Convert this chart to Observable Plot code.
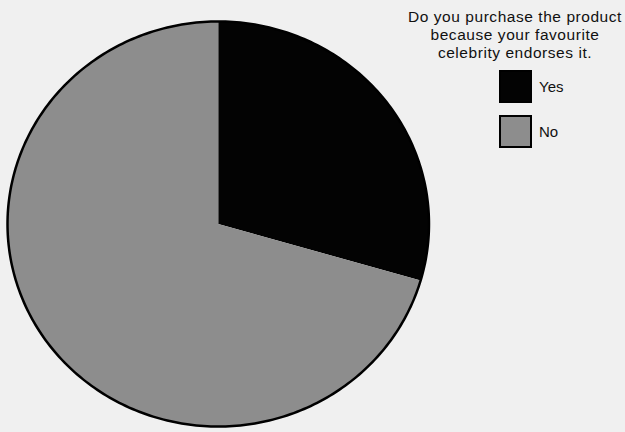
<!DOCTYPE html>
<html>
<head>
<meta charset="utf-8">
<script src="https://cdn.jsdelivr.net/npm/d3@7"></script>
<script src="https://cdn.jsdelivr.net/npm/@observablehq/plot@0.6"></script>
<style>
  html, body { margin: 0; padding: 0; background: #f0f0f0; }
  #wrap { position: relative; width: 625px; height: 432px; overflow: hidden; font-family: "Liberation Sans", Arial, sans-serif; color: #111; }
  #chart { position: absolute; left: 0; top: 0; }
  #legend { position: absolute; left: 400px; top: 8px; width: 230px; }
  #legend .title { text-align: center; font-size: 15.5px; letter-spacing: 0.55px; line-height: 18px; }
  .item { position: absolute; left: 99px; display: flex; align-items: center; }
  .sw { width: 29px; height: 29px; border: 2px solid #000; box-sizing: content-box; }
  .lab { margin-left: 7px; font-size: 15px; }
</style>
</head>
<body>
<div id="wrap">
  <div id="chart"></div>
  <div id="legend"></div>
</div>
<script>
const categories = ["Yes", "No"];
const values = [29.5, 70.5];
const colors = ["#030303", "#8d8d8d"];
const legendTitle = ["Do you purchase the product", "because your favourite", "celebrity endorses it."];

// Build slice outlines in unit coordinates (angle 0 = top, clockwise)
const pie = d3.pie().sort(null).value(d => d.value)(categories.map((c, i) => ({category: c, value: values[i]})));
const pts = [];
pie.forEach(s => {
  const cat = s.data.category;
  pts.push({category: cat, x: 0, y: 0});
  const n = Math.max(2, Math.ceil((s.endAngle - s.startAngle) / 0.01));
  for (let k = 0; k <= n; k++) {
    const a = s.startAngle + (s.endAngle - s.startAngle) * k / n;
    pts.push({category: cat, x: Math.sin(a), y: Math.cos(a)});
  }
  pts.push({category: cat, x: 0, y: 0});
});
const ring = d3.range(0, 361).map(d => ({x: Math.sin(d * Math.PI / 180), y: Math.cos(d * Math.PI / 180)}));

const plot = Plot.plot({
  width: 625,
  height: 432,
  margin: 0,
  style: {background: "transparent"},
  x: {domain: [-1, 1], range: [7, 428.5], axis: null},
  y: {domain: [-1, 1], range: [426, 21], axis: null},
  color: {domain: categories, range: colors},
  marks: [
    Plot.line(pts, {x: "x", y: "y", z: "category", fill: "category", stroke: "none", curve: "linear"}),
    Plot.line(ring, {x: "x", y: "y", stroke: "#000", strokeWidth: 2.5, curve: "linear"})
  ]
});
document.getElementById("chart").appendChild(plot);

const lg = document.getElementById("legend");
const t = document.createElement("div");
t.className = "title";
t.innerHTML = legendTitle.join("<br>");
lg.appendChild(t);
categories.forEach((c, i) => {
  const it = document.createElement("div");
  it.className = "item";
  it.style.top = (62 + i * 45) + "px";
  const sw = document.createElement("div");
  sw.className = "sw";
  sw.style.background = colors[i];
  const lab = document.createElement("span");
  lab.className = "lab";
  lab.textContent = c;
  it.appendChild(sw); it.appendChild(lab);
  lg.appendChild(it);
});
</script>
</body>
</html>
